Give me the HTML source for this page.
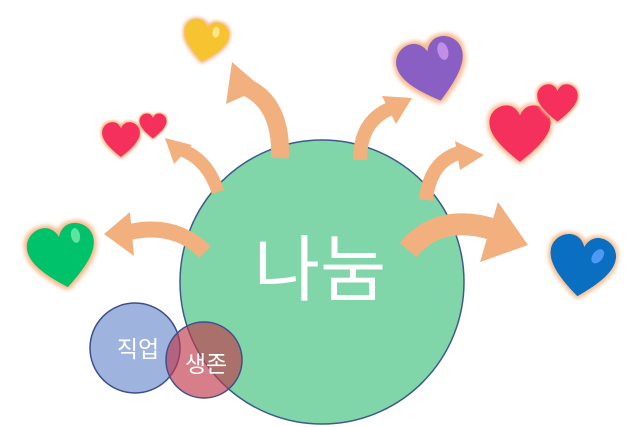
<!DOCTYPE html>
<html><head><meta charset="utf-8"><style>
html,body{margin:0;padding:0;background:#fff;width:643px;height:427px;overflow:hidden}
svg{display:block}
text{font-family:"Liberation Sans","Noto Sans CJK KR",sans-serif;fill:#fff}
</style></head><body>
<svg width="643" height="427" viewBox="0 0 643 427">
<defs>
<path id="h" d="M50,88 C20,65 5,47 5,30 C5,15 18,5 30,5 C40,5 47,12 50,20 C53,12 60,5 70,5 C82,5 95,15 95,30 C95,47 80,65 50,88Z"/>
<filter id="g" x="-40%" y="-40%" width="180%" height="180%"><feMorphology operator="dilate" radius="3"/><feGaussianBlur stdDeviation="3"/></filter>
</defs>
<!-- big circle -->
<circle cx="322" cy="282" r="142" fill="#80d6a8" stroke="#3d5a8c" stroke-width="1.5"/>
<!-- arrows -->
<g fill="none" stroke="#f2b07f" stroke-linecap="butt">
<path d="M280,158 Q282,105 248,88" stroke-width="18"/>
<path d="M218,192 Q208,160 182,150" stroke-width="13"/>
<path d="M205,252 Q175,222 130,232" stroke-width="16"/>
<path d="M360,160 Q360,120 392,108" stroke-width="14"/>
<path d="M426,200 Q430,160 462,152" stroke-width="14"/>
<path d="M408,250 Q440,212 495,230" stroke-width="22"/>
</g>
<g fill="#f2b07f">
<polygon points="232,62 262,88 226,104"/>
<polygon points="165,138 192,145 174,164"/>
<polygon points="104,234 130,212 134,256"/>
<polygon points="412,98 382,96 396,124"/>
<polygon points="484,155 455,141 460,170"/>
<polygon points="528,245 498,202 480,262"/>
</g>
<text x="320" y="295" font-size="72" text-anchor="middle">나눔</text>
<circle cx="135" cy="348" r="45" fill="#9fb3df" stroke="#3d4f8c" stroke-width="1.5"/>
<circle cx="204" cy="360" r="38" fill="#c0394a" fill-opacity="0.65" stroke="#3d4f8c" stroke-width="1.5"/>
<text x="138" y="357" font-size="23" text-anchor="middle">직업</text>
<text x="206" y="372" font-size="23" text-anchor="middle">생존</text>
<!-- hearts -->
<g>
<g transform="translate(180,18) rotate(10 25 25) scale(0.5)"><use href="#h" fill="#f7b98a" filter="url(#g)"/><use href="#h" fill="#f6c431"/><ellipse cx="68" cy="25" rx="7" ry="11" fill="#fde58a"/></g>
<g transform="translate(100,120) scale(0.42)"><use href="#h" fill="#f7b98a" filter="url(#g)"/><use href="#h" fill="#f5305c"/></g>
<g transform="translate(138,112) scale(0.3)"><use href="#h" fill="#f7b98a" filter="url(#g)"/><use href="#h" fill="#f5305c"/></g>
<g transform="translate(25,222) rotate(-10 35 35) scale(0.75)"><use href="#h" fill="#f7b98a" filter="url(#g)"/><use href="#h" fill="#00c26a"/><ellipse cx="72" cy="22" rx="6" ry="10" fill="#5fe39f"/></g>
<g transform="translate(395,35) rotate(-15 40 35) scale(0.75)"><use href="#h" fill="#f7b98a" filter="url(#g)"/><use href="#h" fill="#8a5fc4"/><ellipse cx="70" cy="25" rx="7" ry="12" fill="#c08de8"/></g>
<g transform="translate(486,102) scale(0.68)"><use href="#h" fill="#f7b98a" filter="url(#g)"/><use href="#h" fill="#f5305c"/></g>
<g transform="translate(535,82) scale(0.45)"><use href="#h" fill="#f7b98a" filter="url(#g)"/><use href="#h" fill="#f5305c"/></g>
<g transform="translate(545,232) rotate(8 35 35) scale(0.73)"><use href="#h" fill="#f7b98a" filter="url(#g)"/><use href="#h" fill="#0a6fc0"/><ellipse cx="70" cy="30" rx="7" ry="11" fill="#4f98f5" transform="rotate(30 70 30)"/></g>
</g>
</svg>
</body></html>
